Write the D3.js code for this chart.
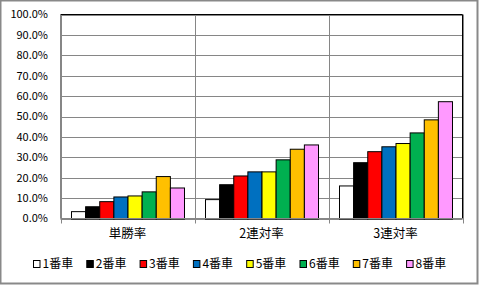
<!DOCTYPE html>
<html><head><meta charset="utf-8">
<script src="https://cdn.jsdelivr.net/npm/d3@7/dist/d3.min.js"></script>
<style>body{margin:0;background:#fff;}svg{display:block;}</style>
</head><body>
<svg id="c" width="479" height="285"></svg>
<script>
const categories = ["単勝率", "2連対率", "3連対率"];
const seriesNames = ["1番車","2番車","3番車","4番車","5番車","6番車","7番車","8番車"];
const seriesColors = ["#FFFFFF","#000000","#FF0000","#0070C0","#FFFF00","#00B050","#FFC000","#FF99FF"];
const s1 = [3.6, 9.5, 16.2];
const s2 = [6.0, 16.8, 27.6];
const s3 = [8.5, 21.1, 33.0];
const s4 = [10.8, 23.1, 35.4];
const s5 = [11.3, 23.1, 37.0];
const s6 = [13.3, 29.0, 42.2];
const s7 = [20.8, 34.2, 48.6];
const s8 = [15.2, 36.3, 57.5];
const seriesValues = [s1,s2,s3,s4,s5,s6,s7,s8];
const yTicks = [0,10,20,30,40,50,60,70,80,90,100];

const svg = d3.select("#c");
const font = "'Noto Sans CJK JP', 'Noto Sans', sans-serif";
const L = 60.5, R = 462.5, T = 14.5, B = 218.5;

// outer border
svg.append("rect").attr("x",0.5).attr("y",0.5).attr("width",477).attr("height",283)
  .attr("fill","#fff").attr("stroke","#898989").attr("stroke-width",2);

const y = d3.scaleLinear().domain([0,100]).range([B,T]);
const pad = 21/134;
const x0 = d3.scaleBand().domain(categories).range([L,R]).paddingInner(0).paddingOuter(0);
const xb = d3.scaleBand().domain(categories).range([L,R]).paddingInner(pad).paddingOuter(pad/2);
const x1 = d3.scaleBand().domain(d3.range(seriesNames.length)).range([0, xb.bandwidth()]);

// horizontal gridlines
svg.append("g").selectAll("line").data(yTicks).join("line")
  .attr("x1",L).attr("x2",R)
  .attr("y1",d=>Math.round(y(d))+0.5).attr("y2",d=>Math.round(y(d))+0.5)
  .attr("stroke","#868686").attr("stroke-width",1);

// vertical category separators
const bounds = [L, ...categories.slice(1).map(c=>x0(c)), R];
svg.append("g").selectAll("line").data(bounds).join("line")
  .attr("x1",d=>Math.round(d)+0.5).attr("x2",d=>Math.round(d)+0.5)
  .attr("y1",T).attr("y2",B+5)
  .attr("stroke","#868686").attr("stroke-width",1);

// plot border top/right in black
svg.append("path").attr("d",`M${L},${T}H${R}V${B}`).attr("fill","none").attr("stroke","#000").attr("stroke-width",1);

// bars
seriesValues.forEach((vals,i)=>{
  svg.append("g").selectAll("rect").data(vals).join("rect")
    .attr("x",(d,j)=>xb(categories[j])+x1(i)+0.5)
    .attr("width",x1.bandwidth())
    .attr("y",d=>y(d)+0.5)
    .attr("height",d=>B-y(d))
    .attr("fill",seriesColors[i]).attr("stroke","#000").attr("stroke-width",1);
});

// axes lines
svg.append("line").attr("x1",L).attr("x2",L).attr("y1",T).attr("y2",B).attr("stroke","#868686");
svg.append("line").attr("x1",L).attr("x2",R).attr("y1",B).attr("y2",B).attr("stroke","#868686");

// y labels
svg.append("g").selectAll("text").data(yTicks).join("text")
  .attr("x",48).attr("y",d=>y(d)).attr("dy","0.36em")
  .attr("text-anchor","end").attr("font-family",font).attr("font-size",11).attr("fill","#000")
  .text(d=>d.toFixed(1)+"%");

// category labels
svg.append("g").selectAll("text").data(categories).join("text")
  .attr("x",d=>x0(d)+x0.bandwidth()/2).attr("y",238)
  .attr("text-anchor","middle").attr("font-family",font).attr("font-size",12.5).attr("fill","#000")
  .text(d=>d);

// legend
const lg = svg.append("g").selectAll("g").data(seriesNames).join("g")
  .attr("transform",(d,i)=>`translate(${33.5+53.3*i},264)`);
lg.append("rect").attr("x",0).attr("y",-3.5).attr("width",6.5).attr("height",7)
  .attr("fill",(d,i)=>seriesColors[i]).attr("stroke","#000").attr("stroke-width",1);
lg.append("text").attr("x",9).attr("y",0).attr("dy","0.36em")
  .attr("font-family",font).attr("font-size",12).attr("fill","#000").text(d=>d);
</script>
</body></html>
